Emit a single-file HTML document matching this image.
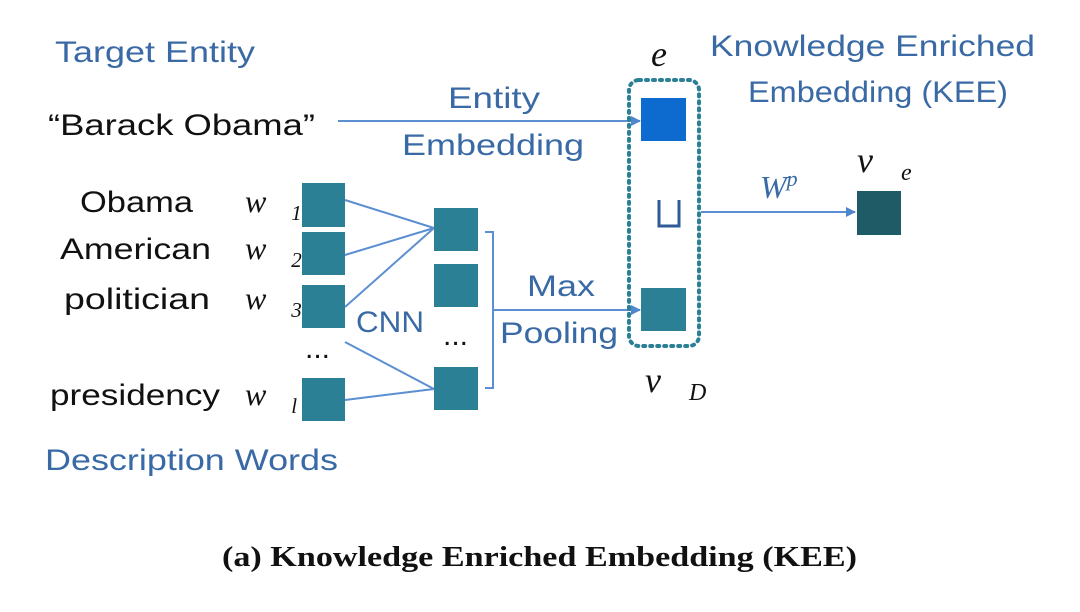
<!DOCTYPE html>
<html><head><style>
body{margin:0;background:#fff;width:1080px;height:607px;overflow:hidden}
.s{font-family:"Liberation Sans",sans-serif}
.m{font-family:"Liberation Serif",serif;font-style:italic}
</style></head><body>
<svg width="1080" height="607" viewBox="0 0 1080 607" xmlns="http://www.w3.org/2000/svg">
<defs><marker id="a" markerWidth="10" markerHeight="10" refX="9" refY="5" orient="auto" markerUnits="userSpaceOnUse"><path d="M0,0 L10,5 L0,10 z" fill="#4f86cc"/></marker></defs>
<g fill="#3a6aa5" font-size="30" class="s">
<text class="s" x="55" y="62" textLength="200" lengthAdjust="spacingAndGlyphs">Target Entity</text>
<text class="s" x="45" y="470" textLength="293" lengthAdjust="spacingAndGlyphs">Description Words</text>
<text class="s" x="448" y="108" textLength="92" lengthAdjust="spacingAndGlyphs">Entity</text>
<text class="s" x="402" y="155" textLength="182" lengthAdjust="spacingAndGlyphs">Embedding</text>
<text class="s" x="710" y="56" textLength="325" lengthAdjust="spacingAndGlyphs">Knowledge Enriched</text>
<text class="s" x="748" y="102" textLength="260" lengthAdjust="spacingAndGlyphs">Embedding (KEE)</text>
<text class="s" x="527" y="296" textLength="68" lengthAdjust="spacingAndGlyphs">Max</text>
<text class="s" x="500" y="343" textLength="118" lengthAdjust="spacingAndGlyphs">Pooling</text>
<text class="s" x="356" y="332" textLength="68" lengthAdjust="spacingAndGlyphs">CNN</text>
</g>
<g fill="#111" font-size="30">
<text class="s" x="48" y="135" textLength="267" lengthAdjust="spacingAndGlyphs">“Barack Obama”</text>
<text class="s" x="80" y="212" textLength="113" lengthAdjust="spacingAndGlyphs">Obama</text>
<text class="s" x="60" y="259" textLength="151" lengthAdjust="spacingAndGlyphs">American</text>
<text class="s" x="64" y="309" textLength="146" lengthAdjust="spacingAndGlyphs">politician</text>
<text class="s" x="50" y="405" textLength="170" lengthAdjust="spacingAndGlyphs">presidency</text>
<text class="s" x="305" y="358">...</text>
<text class="s" x="443" y="345">...</text>
</g>
<g fill="#111" font-size="32">
<text class="m" x="245" y="212">w⃗<tspan font-size="21" dy="8">1</tspan></text>
<text class="m" x="245" y="259">w⃗<tspan font-size="21" dy="8">2</tspan></text>
<text class="m" x="245" y="309">w⃗<tspan font-size="21" dy="8">3</tspan></text>
<text class="m" x="245" y="405">w⃗<tspan font-size="21" dy="8">l</tspan></text>
<text class="m" x="651" y="66" font-size="36">e⃗</text>
<text class="m" x="645" y="392" font-size="36">v⃗<tspan font-size="24" dy="8">D</tspan></text>
<text class="m" x="857" y="172" font-size="36">v⃗<tspan font-size="24" dy="8">e</tspan></text>
<text class="m" x="760" y="198" fill="#3a6aa5" font-size="32">W<tspan font-size="22" dy="-12">p</tspan></text>
</g>
<g stroke="#5b8fd1" stroke-width="2" fill="none">
<line x1="345" y1="200" x2="434" y2="228"/>
<line x1="345" y1="255" x2="434" y2="228"/>
<line x1="345" y1="307" x2="434" y2="228"/>
<line x1="345" y1="342" x2="434" y2="389"/>
<line x1="345" y1="400" x2="434" y2="389"/>
<path d="M485,232 H493 V388 H485"/>
<line x1="493" y1="310" x2="640" y2="310" marker-end="url(#a)"/>
<line x1="338" y1="121" x2="640" y2="121" marker-end="url(#a)"/>
<line x1="701" y1="212" x2="855" y2="212" marker-end="url(#a)"/>
</g>
<g fill="#2b8096">
<rect x="302" y="183" width="43" height="44"/>
<rect x="302" y="232" width="43" height="43"/>
<rect x="302" y="285" width="43" height="43"/>
<rect x="302" y="378" width="43" height="43"/>
<rect x="434" y="208" width="44" height="43"/>
<rect x="434" y="264" width="44" height="43"/>
<rect x="434" y="367" width="44" height="43"/>
<rect x="641" y="288" width="45" height="43"/>
</g>
<rect x="641" y="98" width="45" height="43" fill="#0d6bd0"/>
<rect x="857" y="191" width="44" height="44" fill="#1e5b67"/>
<rect x="629" y="80" width="70" height="266" rx="10" fill="none" stroke="#2b8096" stroke-width="4" stroke-dasharray="2 5" stroke-linecap="round"/>
<path d="M659,200 V226 H679 V200" fill="none" stroke="#2f5a94" stroke-width="3"/>
<text x="222" y="566" textLength="635" lengthAdjust="spacingAndGlyphs" font-family="Liberation Serif, serif" style="font-family:'Liberation Serif',serif" font-weight="bold" font-size="28" fill="#111">(a) Knowledge Enriched Embedding (KEE)</text>
</svg>
</body></html>
